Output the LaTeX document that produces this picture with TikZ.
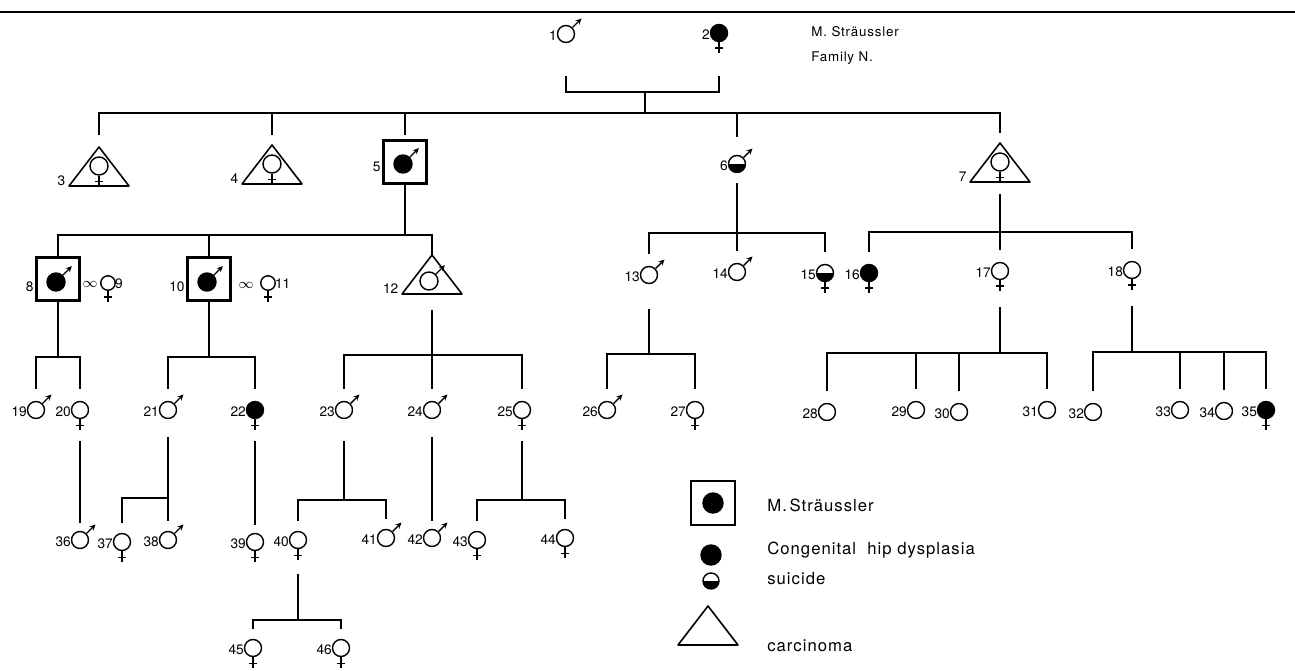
\documentclass[tikz,border=0pt]{standalone}
\usepackage{fontspec}
\setmainfont{TeX Gyre Heros}
\newfontfamily\legfont[LetterSpace=6]{TeX Gyre Heros}
\usetikzlibrary{arrows.meta,calc}

\tikzset{
  ind/.style={circle,draw,line width=0.8pt,minimum size=3.4mm,inner sep=0pt},
  aff/.style={ind,fill=black},
  half/.style={ind,path picture={\fill (path picture bounding box.west) rectangle (path picture bounding box.south east);}},
  sbox/.style={draw,line width=1.8pt,minimum size=8.6mm,inner sep=0pt},
  num/.style={font=\fontsize{7.8}{9}\selectfont,inner sep=0.6pt},
  lab/.style={num,anchor=base east,xshift=-0.7pt},
  leg/.style={font=\legfont\fontsize{9.5}{11}\selectfont,anchor=west,inner sep=0pt},
  pline/.style={line width=0.8pt},
  tri/.style={line width=0.9pt,line join=round},
}
\newcommand{\malemark}[1]{\draw[line width=0.8pt,-{Stealth[length=3.4pt,width=3.2pt]}] (#1.45) -- ++(9,-9);}
\newcommand{\femmark}[1]{\draw[line width=0.8pt] (#1.south) -- ++(0,11) ($(#1.south)+(-4,6)$) -- ++(8,0);}
\newcommand{\trimark}[1]{\draw[tri] (#1) -- ++(30,39) -- ++(-60,0) -- cycle;}

\begin{document}
\begin{tikzpicture}[x=0.2mm,y=-0.2mm]
\useasboundingbox (0,0) rectangle (1295,671);
% Rule and title
\draw[line width=1pt] (0,12) -- (1295,12);
\node[font=\legfont\fontsize{7.6}{9}\selectfont,anchor=west,inner sep=0pt] (ttl) at (811,32) {M. Sträussler};
\node[font=\legfont\fontsize{7.6}{9}\selectfont,anchor=west,inner sep=0pt] (fam) at (811,58) {Family N.};
% Generation I
\node[ind] (p1) at (566,34) {}; \node[lab] (l1) at (p1.south west) {1}; \malemark{p1}
\node[aff] (p2) at (719,33) {}; \node[lab] (l2) at (p2.south west) {2}; \femmark{p2}
% Generation II
\coordinate (a3) at (99,147); \trimark{a3}
\node[ind,minimum size=3.6mm] (p3) at (99,166) {}; \femmark{p3}
\node[lab] (l3) at ($(a3)+(-31,39)$) {3};
\coordinate (a4) at (272,145); \trimark{a4}
\node[ind,minimum size=3.6mm] (p4) at (272,164) {}; \femmark{p4}
\node[lab] (l4) at ($(a4)+(-31,39)$) {4};
\node[sbox] (b5) at (405,162) {};
\node[aff,minimum size=3.6mm] (p5) at (403,164) {}; \malemark{p5}
\node[num,anchor=east] (l5) at ([yshift=-1mm]b5.west) {5};
\node[half] (p6) at (737,164) {}; \node[lab] (l6) at (p6.south west) {6}; \malemark{p6}
\coordinate (a7) at (1000,143); \trimark{a7}
\node[ind,minimum size=3.6mm] (p7) at (1000,162) {}; \femmark{p7}
\node[lab] (l7) at ($(a7)+(-31,39)$) {7};
% Generation III
\node[sbox] (b8) at (58,279) {};
\node[aff,minimum size=3.6mm] (p8) at (56,282) {}; \malemark{p8}
\node[num,anchor=east] (l8) at ([yshift=-1.5mm]b8.west) {8};
\node[num] (m8) at (90,284) {$\infty$};
\node[ind,minimum size=2.9mm] (p9) at (108,283) {}; \femmark{p9}
\node[num,anchor=base west] (l9) at (p9.south east) {9};
\node[sbox] (b10) at (209,279) {};
\node[aff,minimum size=3.6mm] (p10) at (207,282) {}; \malemark{p10}
\node[num,anchor=east] (l10) at ([yshift=-1.5mm]b10.west) {10};
\node[num] (m10) at (246,285) {$\infty$};
\node[ind,minimum size=2.9mm] (p11) at (268,283) {}; \femmark{p11}
\node[num,anchor=base west] (l11) at (p11.south east) {11};
\coordinate (a12) at (432,255); \trimark{a12}
\node[ind,minimum size=3.6mm] (p12) at (429,281) {}; \malemark{p12}
\node[lab] (l12) at ($(a12)+(-31,39)$) {12};
\node[ind] (p13) at (649,275) {}; \node[lab] (l13) at (p13.south west) {13}; \malemark{p13}
\node[ind] (p14) at (737,272) {}; \node[lab] (l14) at (p14.south west) {14}; \malemark{p14}
\node[half] (p15) at (825,273) {}; \node[lab] (l15) at (p15.south west) {15}; \femmark{p15}
\node[aff] (p16) at (869,273) {}; \node[lab] (l16) at (p16.south west) {16}; \femmark{p16}
\node[ind] (p17) at (1000,271) {}; \node[lab] (l17) at (p17.south west) {17}; \femmark{p17}
\node[ind] (p18) at (1132,270) {}; \node[lab] (l18) at (p18.south west) {18}; \femmark{p18}
% Generation IV
\node[ind] (p19) at (36,410) {}; \node[lab] (l19) at (p19.south west) {19}; \malemark{p19}
\node[ind] (p20) at (80,410) {}; \node[lab] (l20) at (p20.south west) {20}; \femmark{p20}
\node[ind] (p21) at (168,410) {}; \node[lab] (l21) at (p21.south west) {21}; \malemark{p21}
\node[aff] (p22) at (255,410) {}; \node[lab] (l22) at (p22.south west) {22}; \femmark{p22}
\node[ind] (p23) at (344,410) {}; \node[lab] (l23) at (p23.south west) {23}; \malemark{p23}
\node[ind] (p24) at (432,410) {}; \node[lab] (l24) at (p24.south west) {24}; \malemark{p24}
\node[ind] (p25) at (522,410) {}; \node[lab] (l25) at (p25.south west) {25}; \femmark{p25}
\node[ind] (p26) at (607,410) {}; \node[lab] (l26) at (p26.south west) {26}; \malemark{p26}
\node[ind] (p27) at (695,410) {}; \node[lab] (l27) at (p27.south west) {27}; \femmark{p27}
\node[ind] (p28) at (827,412) {}; \node[lab] (l28) at (p28.south west) {28};
\node[ind] (p29) at (916,410) {}; \node[lab] (l29) at (p29.south west) {29};
\node[ind] (p30) at (959,412) {}; \node[lab] (l30) at (p30.south west) {30};
\node[ind] (p31) at (1047,410) {}; \node[lab] (l31) at (p31.south west) {31};
\node[ind] (p32) at (1093,412) {}; \node[lab] (l32) at (p32.south west) {32};
\node[ind] (p33) at (1180,410) {}; \node[lab] (l33) at (p33.south west) {33};
\node[ind] (p34) at (1224,411) {}; \node[lab] (l34) at (p34.south west) {34};
\node[aff] (p35) at (1266,410) {}; \node[lab] (l35) at (p35.south west) {35}; \femmark{p35}
% Generation V
\node[ind] (p36) at (80,540) {}; \node[lab] (l36) at (p36.south west) {36}; \malemark{p36}
\node[ind] (p37) at (122,542) {}; \node[lab] (l37) at (p37.south west) {37}; \femmark{p37}
\node[ind] (p38) at (168,540) {}; \node[lab] (l38) at (p38.south west) {38}; \malemark{p38}
\node[ind] (p39) at (255,542) {}; \node[lab] (l39) at (p39.south west) {39}; \femmark{p39}
\node[ind] (p40) at (298,540) {}; \node[lab] (l40) at (p40.south west) {40}; \femmark{p40}
\node[ind] (p41) at (386,538) {}; \node[lab] (l41) at (p41.south west) {41}; \malemark{p41}
\node[ind] (p42) at (432,538) {}; \node[lab] (l42) at (p42.south west) {42}; \malemark{p42}
\node[ind] (p43) at (477,540) {}; \node[lab] (l43) at (p43.south west) {43}; \femmark{p43}
\node[ind] (p44) at (565,538) {}; \node[lab] (l44) at (p44.south west) {44}; \femmark{p44}
% Generation VI
\node[ind] (p45) at (253,648) {}; \node[lab] (l45) at (p45.south west) {45}; \femmark{p45}
\node[ind] (p46) at (341,648) {}; \node[lab] (l46) at (p46.south west) {46}; \femmark{p46}
% Lines I-II
\coordinate (u1) at (645,92);
\coordinate (g2) at (645,113);
\draw[pline] ($(p1)+(0,42)$) |- (u1) -| ($(p2)+(0,43)$);
\draw[pline] (u1) -- (g2);
\draw[pline] ($(a3)+(0,-12)$) |- (g2) -| ($(a7)+(0,-10)$);
\draw[pline] (g2 -| a4) -- ($(a4)+(0,-10)$);
\draw[pline] (g2 -| b5) -- ($(b5.north)+(0,-4)$);
\draw[pline] (g2 -| p6) -- ($(p6.north)+(0,-18)$);
% Lines II-III
\coordinate (g5) at (405,235);
\draw[pline] (b5.south) -- (g5);
\draw[pline] (b8.north) |- (g5) -| (a12);
\draw[pline] (g5 -| b10) -- (b10.north);
\coordinate (g6) at (737,233);
\draw[pline] ($(p6.south)+(0,10)$) -- (g6);
\draw[pline] ($(p13.north)+(0,-12)$) |- (g6) -| ($(p15.north)+(0,-12)$);
\draw[pline] (g6) -- ($(p14.north)+(0,-12)$);
\coordinate (g7) at (1000,232);
\draw[pline] ($(a7)+(0,51)$) -- (g7);
\draw[pline] ($(p16.north)+(0,-12)$) |- (g7) -| ($(p18.north)+(0,-12)$);
\draw[pline] (g7) -- ($(p17.north)+(0,-12)$);
% Lines III-IV
\coordinate (g8) at (58,357);
\draw[pline] (b8.south) -- (g8);
\draw[pline] ($(p19.north)+(0,-12)$) |- (g8) -| ($(p20.north)+(0,-12)$);
\coordinate (g10) at (209,357);
\draw[pline] (b10.south) -- (g10);
\draw[pline] ($(p21.north)+(0,-12)$) |- (g10) -| ($(p22.north)+(0,-12)$);
\coordinate (g12) at (432,355);
\draw[pline] ($(a12)+(0,55)$) -- (g12);
\draw[pline] ($(p23.north)+(0,-12)$) |- (g12) -| ($(p25.north)+(0,-12)$);
\draw[pline] (g12) -- ($(p24.north)+(0,-12)$);
\coordinate (g13) at (649,354);
\draw[pline] ($(p13.south)+(0,25)$) -- (g13);
\draw[pline] ($(p26.north)+(0,-12)$) |- (g13) -| ($(p27.north)+(0,-12)$);
\coordinate (g17) at (1000,353);
\draw[pline] ($(p17.south)+(0,27)$) -- (g17);
\draw[pline] ($(p28.north)+(0,-12)$) |- (g17) -| ($(p31.north)+(0,-12)$);
\draw[pline] (g17 -| p29) -- ($(p29.north)+(0,-12)$);
\draw[pline] (g17 -| p30) -- ($(p30.north)+(0,-12)$);
\coordinate (g18) at (1132,352);
\draw[pline] ($(p18.south)+(0,27)$) -- (g18);
\draw[pline] ($(p32.north)+(0,-12)$) |- (g18) -| ($(p35.north)+(0,-12)$);
\draw[pline] (g18 -| p33) -- ($(p33.north)+(0,-12)$);
\draw[pline] (g18 -| p34) -- ($(p34.north)+(0,-12)$);
% Lines IV-V
\draw[pline] ($(p20.south)+(0,22)$) -- ($(p36.north)+(0,-8)$);
\coordinate (g21) at (168,498);
\draw[pline] ($(p21.south)+(0,18)$) -- (g21);
\draw[pline] ($(p37.north)+(0,-10)$) |- (g21) -- ($(p38.north)+(0,-10)$);
\draw[pline] ($(p22.south)+(0,22)$) -- ($(p39.north)+(0,-8)$);
\coordinate (g23) at (344,500);
\draw[pline] ($(p23.south)+(0,22)$) -- (g23);
\draw[pline] ($(p40.north)+(0,-10)$) |- (g23) -| ($(p41.north)+(0,-10)$);
\draw[pline] ($(p24.south)+(0,18)$) -- ($(p42.north)+(0,-8)$);
\coordinate (g25) at (522,500);
\draw[pline] ($(p25.south)+(0,22)$) -- (g25);
\draw[pline] ($(p43.north)+(0,-10)$) |- (g25) -| ($(p44.north)+(0,-10)$);
% Lines V-VI
\coordinate (g40) at (298,620);
\draw[pline] ($(p40.south)+(0,25)$) -- (g40);
\draw[pline] ($(p45.north)+(0,-10)$) |- (g40) -| ($(p46.north)+(0,-10)$);
% Legend
\node[sbox,line width=1.3pt,minimum size=8.8mm] (k1) at (713,503) {};
\node[aff,minimum size=4mm] (k1c) at (k1) {};
\node[leg] (t1) at (767,505) {M.\,Sträussler};
\node[aff,minimum size=4mm] (k2) at (711,555) {};
\node[leg] (t2) at (767,550) {Congenital\ \ hip dysplasia};
\node[half,minimum size=3.2mm] (k3) at (711,581) {};
\node[leg] (t3) at (767,579) {suicide};
\coordinate (k4) at (708,606); \trimark{k4}
\node[leg] (t4) at (767,646) {carcinoma};
\end{tikzpicture}
\end{document}
